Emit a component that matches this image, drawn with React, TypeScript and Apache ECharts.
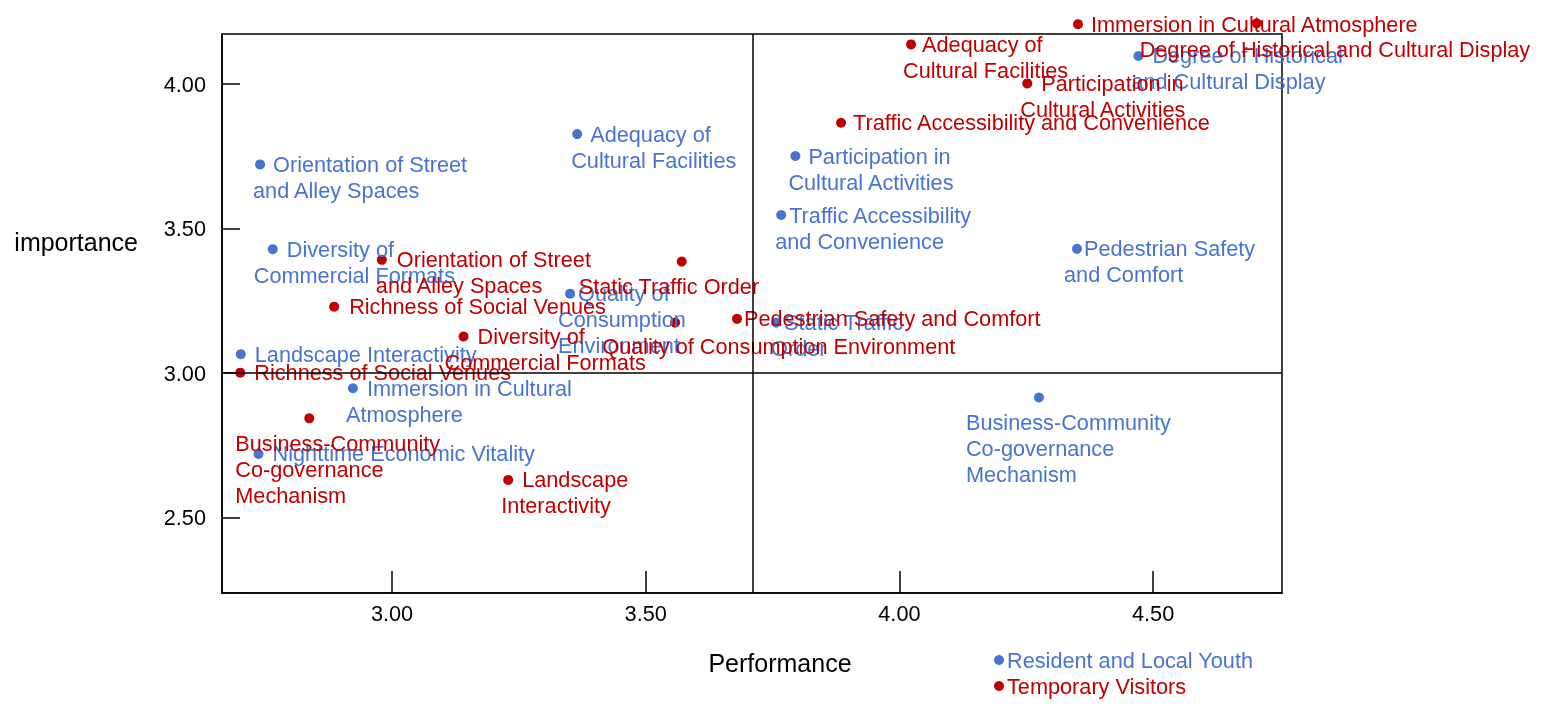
import { useEffect, useRef } from "react";
import * as echarts from "echarts";

// Resident and Local Youth (blue)
const residentNames = [
  "Orientation of Street\nand Alley Spaces",
  "Adequacy of\nCultural Facilities",
  "Diversity of\nCommercial Formats",
  "Quality of\nConsumption\nEnvironment",
  "Landscape Interactivity",
  "Immersion in Cultural\nAtmosphere",
  "Nighttime Economic Vitality",
  "Participation in\nCultural Activities",
  "Traffic Accessibility\nand Convenience",
  "Pedestrian Safety\nand Comfort",
  "Static Traffic\nOrder",
  "Business-Community\nCo-governance\nMechanism",
  "Degree of Historical\nand Cultural Display"
];
const residentPerformance = [2.74, 3.365, 2.765, 3.351, 2.702, 2.923, 2.737, 3.795, 3.767, 4.35, 3.757, 4.275, 4.471];
const residentImportance = [3.722, 3.827, 3.429, 3.275, 3.066, 2.948, 2.721, 3.751, 3.547, 3.43, 3.175, 2.916, 4.097];

// Temporary Visitors (red)
const visitorNames = [
  "Immersion in Cultural Atmosphere",
  "Adequacy of\nCultural Facilities",
  "Degree of Historical and Cultural Display",
  "Participation in\nCultural Activities",
  "Traffic Accessibility and Convenience",
  "Orientation of Street\nand Alley Spaces",
  "Static Traffic Order",
  "Richness of Social Venues",
  "Diversity of\nCommercial Formats",
  "Quality of Consumption Environment",
  "Pedestrian Safety and Comfort",
  "Richness of Social Venues",
  "Business-Community\nCo-governance\nMechanism",
  "Landscape\nInteractivity"
];
const visitorPerformance = [4.352, 4.023, 4.704, 4.252, 3.885, 2.98, 3.571, 2.886, 3.141, 3.558, 3.68, 2.701, 2.837, 3.229];
const visitorImportance = [4.207, 4.137, 4.21, 4.002, 3.866, 3.392, 3.386, 3.23, 3.127, 3.175, 3.188, 3.002, 2.844, 2.631];

const xTicks = [3.0, 3.5, 4.0, 4.5];
const yTicks = [2.5, 3.0, 3.5, 4.0];
const performanceMean = 3.71;
const importanceMean = 3.0;

// label placement: [left of text block from dot, first line centre from dot, first line indent]
const residentLabelPos = [
  [-7, 0, 20], [-6, 0, 19], [-19, 0, 33], [-12, 0, 20], [14, 0, 0], [-7, 0, 21], [14, 0, 0],
  [-7, 0, 20], [-6, 0, 14], [-13, 0, 20], [-5, 0, 13], [-73, 25, 0], [-7, 0, 21]
];
const visitorLabelPos = [
  [13, 0, 0], [-8, 0, 19], [-117, 26, 0], [-7, 0, 21], [12, 0, 0], [-6, 0, 21], [-103, 25, 0],
  [15, 0, 0], [-19, 0, 33], [-73, 24, 0], [7, 0, 0], [14, 0, 0], [-74, 25, 0], [-7, 0, 21]
];

const BLUE = "#4674d2";
const RED = "#c00000";
const FONT = "'Liberation Sans', Arial, sans-serif";
const FS = 21.7;
const LH = 26;
const SYM = 10;

function buildPoints(
  names: string[],
  xs: number[],
  ys: number[],
  pos: number[][],
  color: string
) {
  return names.map((name, i) => {
    const [dx, dy, indent] = pos[i];
    const text = indent > 0 ? `{i| }${name}` : name;
    return {
      name,
      value: [xs[i], ys[i]],
      label: {
        show: true,
        position: [dx + SYM / 2, dy + SYM / 2 - LH / 2],
        align: "left",
        verticalAlign: "top",
        formatter: () => text,
        color,
        fontFamily: FONT,
        fontSize: FS,
        lineHeight: LH,
        rich: { i: { width: indent, lineHeight: LH, fontSize: FS, fontFamily: FONT } }
      }
    };
  });
}

export default function App() {
  const ref = useRef<HTMLDivElement | null>(null);

  useEffect(() => {
    if (!ref.current) return;
    const chart = echarts.init(ref.current, undefined, { renderer: "svg" });
    const axisLine = { show: true, lineStyle: { color: "#000", width: 1.5 } };

    chart.setOption({
      animation: false,
      grid: {
        left: 222,
        top: 34,
        right: 262,
        bottom: 113,
        show: true,
        borderColor: "#000",
        borderWidth: 1.5
      },
      legend: {
        orient: "vertical",
        left: 994,
        top: 649,
        padding: 0,
        itemGap: 4,
        itemWidth: SYM,
        itemHeight: SYM,
        icon: "circle",
        textStyle: { fontFamily: FONT, fontSize: FS, lineHeight: 22, padding: [0, 0, 0, -2] },
        data: [
          { name: "Resident and Local Youth", textStyle: { color: BLUE } },
          { name: "Temporary Visitors", textStyle: { color: RED } }
        ]
      },
      xAxis: {
        type: "value",
        min: 2.665,
        max: 4.754,
        name: "Performance",
        nameLocation: "middle",
        nameGap: 57,
        nameTextStyle: { color: "#000", fontFamily: FONT, fontSize: 25, padding: [0, 0, 0, 56] },
        axisLine,
        axisTick: { show: true, inside: true, length: 22, customValues: xTicks, lineStyle: { color: "#000", width: 1.5 } },
        axisLabel: {
          customValues: xTicks,
          margin: 9,
          color: "#000",
          fontFamily: FONT,
          fontSize: FS,
          formatter: (v: number) => v.toFixed(2)
        },
        splitLine: { show: false }
      },
      yAxis: {
        type: "value",
        min: 2.24,
        max: 4.173,
        name: "{t|importance}\n{s| }",
        nameLocation: "middle",
        nameRotate: 0,
        nameGap: 84,
        nameTextStyle: {
          color: "#000",
          fontFamily: FONT,
          fontSize: 25,
          rich: {
            t: { fontFamily: FONT, fontSize: 25, lineHeight: 30, color: "#000" },
            s: { fontSize: 10, lineHeight: 144 }
          }
        },
        axisLine,
        axisTick: { show: true, inside: true, length: 18, customValues: yTicks, lineStyle: { color: "#000", width: 1.5 } },
        axisLabel: {
          customValues: yTicks,
          margin: 16,
          color: "#000",
          fontFamily: FONT,
          fontSize: FS,
          formatter: (v: number) => v.toFixed(2)
        },
        splitLine: { show: false }
      },
      series: [
        {
          name: "Resident and Local Youth",
          type: "scatter",
          symbol: "circle",
          symbolSize: SYM,
          clip: false,
          itemStyle: { color: BLUE, opacity: 1 },
          data: buildPoints(residentNames, residentPerformance, residentImportance, residentLabelPos, BLUE),
          markLine: {
            silent: true,
            symbol: "none",
            label: { show: false },
            lineStyle: { color: "#000", type: "solid", width: 1.5 },
            data: [{ xAxis: performanceMean }, { yAxis: importanceMean }]
          }
        },
        {
          name: "Temporary Visitors",
          type: "scatter",
          symbol: "circle",
          symbolSize: SYM,
          clip: false,
          itemStyle: { color: RED, opacity: 1 },
          data: buildPoints(visitorNames, visitorPerformance, visitorImportance, visitorLabelPos, RED)
        }
      ]
    });

    return () => {
      chart.dispose();
    };
  }, []);

  return <div ref={ref} style={{ position: "fixed", left: 0, top: 0, width: 1544, height: 706 }} />;
}
